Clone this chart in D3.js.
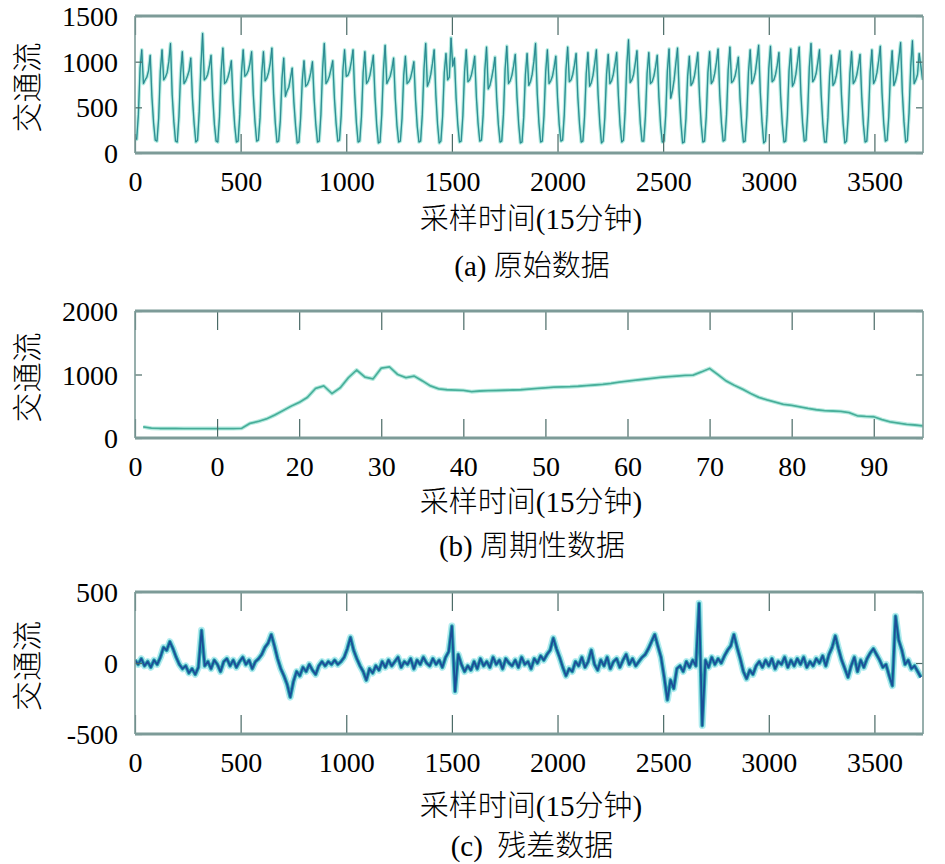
<!DOCTYPE html>
<html>
<head>
<meta charset="utf-8">
<script src="https://cdn.jsdelivr.net/npm/d3@7"></script>
<style>
  html, body { margin: 0; padding: 0; background: #fff; }
</style>
</head>
<body>
<div id="chart"></div>
<script>
// raw flow, one value every 8 samples (12 per day)
const rawStep = 8;
const rawFlow = [
    170, 150, 420, 930, 1130, 760, 800, 830, 900, 1070, 620, 330,
    140, 130, 380, 900, 1130, 800, 830, 880, 1000, 1200, 640, 340,
    130, 120, 400, 880, 1110, 760, 790, 840, 900, 1040, 600, 320,
    120, 140, 450, 950, 1310, 800, 820, 860, 950, 1070, 610, 310,
    130, 120, 400, 900, 1150, 760, 780, 830, 900, 1010, 580, 300,
    120, 130, 420, 880, 1130, 840, 860, 900, 980, 1110, 640, 340,
    130, 140, 390, 870, 1110, 790, 820, 880, 980, 1150, 650, 330,
    120, 130, 360, 820, 1040, 620, 680, 720, 820, 930, 560, 300,
    110, 120, 380, 800, 1010, 730, 750, 800, 880, 1000, 590, 310,
    120, 130, 420, 920, 1200, 760, 790, 840, 920, 1010, 600, 320,
    130, 140, 410, 900, 1130, 840, 850, 900, 1000, 1130, 650, 330,
    120, 130, 400, 880, 1110, 760, 790, 850, 950, 1070, 620, 310,
    110, 120, 420, 910, 1180, 760, 800, 840, 920, 1040, 600, 300,
    120, 130, 380, 850, 1060, 760, 780, 820, 900, 1000, 580, 290,
    120, 130, 420, 920, 1200, 730, 780, 860, 980, 1130, 640, 320,
    110, 130, 400, 880, 1090, 800, 830, 1260, 950, 1040, 600, 310,
    120, 130, 410, 890, 1130, 780, 800, 850, 940, 1060, 610, 320,
    130, 140, 420, 910, 1160, 700, 740, 820, 920, 1050, 600, 310,
    120, 130, 420, 920, 1170, 760, 790, 850, 950, 1080, 620, 320,
    110, 120, 390, 860, 1090, 740, 780, 860, 1000, 1200, 650, 330,
    120, 130, 410, 890, 1130, 760, 790, 840, 940, 1060, 610, 310,
    130, 140, 420, 910, 1160, 780, 800, 860, 960, 1090, 620, 320,
    120, 130, 400, 870, 1100, 730, 770, 850, 980, 1130, 640, 330,
    110, 130, 390, 860, 1080, 760, 790, 860, 970, 1100, 630, 310,
    120, 140, 450, 960, 1240, 770, 800, 860, 980, 1120, 640, 320,
    130, 130, 400, 870, 1100, 760, 780, 840, 940, 1070, 610, 300,
    120, 130, 410, 900, 1140, 600, 680, 800, 980, 1150, 650, 330,
    110, 120, 380, 840, 1060, 740, 770, 840, 960, 1100, 630, 320,
    120, 130, 400, 880, 1110, 760, 790, 870, 990, 1140, 640, 330,
    130, 140, 420, 910, 1160, 770, 790, 840, 930, 1050, 600, 310,
    120, 130, 410, 890, 1130, 760, 800, 880, 1020, 1180, 660, 340,
    110, 130, 420, 920, 1170, 780, 800, 860, 960, 1100, 630, 320,
    120, 130, 410, 900, 1140, 730, 770, 860, 1000, 1160, 650, 330,
    130, 140, 440, 940, 1200, 780, 810, 870, 990, 1130, 640, 320,
    120, 120, 390, 850, 1070, 740, 770, 850, 980, 1120, 640, 320,
    110, 130, 400, 870, 1110, 760, 790, 850, 950, 1080, 620, 310,
    120, 130, 410, 890, 1130, 760, 800, 880, 1010, 1170, 660, 330,
    130, 140, 400, 880, 1120, 740, 790, 880, 1040, 1210, 670, 340,
    120, 140, 440, 950, 1230, 760, 800, 860, 1090, 950, 800
];

// periodic (daily) profile, samples 1..96
const periodStart = 1;
const periodicFlow = [
    175, 155, 150, 150, 150, 149, 149, 149, 148, 148, 148, 148,
    152, 230, 260, 300, 360, 430, 500, 560, 640, 780, 820, 700,
    790, 950, 1070, 960, 930, 1100, 1120, 1000, 950, 975, 900, 820,
    775, 760, 755, 750, 730, 740, 745, 748, 752, 756, 760, 770,
    780, 790, 800, 805, 808, 815, 825, 835, 845, 860, 880, 895,
    910, 925, 940, 955, 965, 975, 985, 990, 1040, 1095, 1000, 900,
    830, 770, 700, 640, 600, 565, 530, 515, 490, 465, 445, 430,
    425, 418, 400, 350, 340, 335, 290, 255, 235, 215, 205, 190
];

// residual, one value every 15 samples
const residStep = 15;
const residualFlow = [
    20, -10, 30, -20, 10, -30, 20, -10, 40, 110, 90, 150, 100, 40, -10, -40, -20, -70, -40, -80,
    -30, 230, -20, 10, -40, 20, -10, -60, 10, 30, -20, 20, -30, 10, 40, -10, 20, -40, 10, 30,
    60, 110, 140, 200, 120, 30, -40, -90, -150, -240, -130, -60, -90, -30, -60, -10, -50, -80, -20, 10,
    -20, 10, -10, 20, -10, 10, 40, 100, 180, 90, 30, -20, -60, -120, -40, -70, -20, -50, 10, -30,
    20, -20, 10, 40, -30, 10, -10, 30, -40, 20, -10, 40, 0, -20, 30, -10, 20, -30, 40, 80,
    260, -200, 60, -10, -60, -20, -50, 10, -40, 30, -20, 10, -30, 40, -10, 20, -40, 30, 0, -20,
    20, -30, 40, -10, 10, -40, 30, 0, 50, 20, 60, 90, 175, 100, 40, -30, -90, -40, -60, 10,
    -20, 40, -30, 10, 90, -10, -50, 20, -20, 40, -40, 10, 30, -30, 20, 60, -10, 30, -20, 10,
    40, 60, 100, 150, 200, 120, 40, -100, -260, -120, -180, -40, -20, -60, 10, -30, 20, -20, 420, -440,
    20, -30, 40, -10, 30, 0, 50, 90, 120, 200, 110, 30, -60, -110, -50, -80, -20, 10, -30, 20,
    -20, 30, -40, 10, -10, 40, -30, 20, -20, 30, -10, 40, -30, 10, -20, 30, 0, 50, -20, 60,
    110, 190, 100, 20, -40, -100, -20, 40, -60, 20, -30, 30, 70, 100, 60, 20, -30, -10, -90, -160,
    330, 160, 90, -10, 20, -40, -20, -60, -100
];

const longTicks = [0, 500, 1000, 1500, 2000, 2500, 3000, 3500];
const dayTicks = [0, 10, 20, 30, 40, 50, 60, 70, 80, 90];
const dayTickLabels = ["0", "0", "20", "30", "40", "50", "60", "70", "80", "90"];
const yTicksA = [0, 500, 1000, 1500];
const yTicksB = [0, 1000, 2000];
const yTicksC = [-500, 0, 500];

const yTitle = "交通流";
const xTitle = "采样时间(15分钟)";
const captions = ["(a) 原始数据", "(b) 周期性数据", "(c)\u00a0 残差数据"];

const width = 945;
const height = 864;
const plotLeft = 135;
const plotRight = 923;
const numFont = "'Liberation Serif', 'Times New Roman', serif";
const cjkFont = "'Liberation Serif', 'Noto Sans CJK SC', serif";
const frameColor = "#7d9b98";
const tickColor = "#4a6a66";

const svg = d3.select("#chart")
    .append("svg")
    .attr("width", width)
    .attr("height", height)
    .attr("viewBox", `0 0 ${width} ${height}`);

function drawPanel(opt) {
    const x = d3.scaleLinear().domain(opt.xDomain).range([plotLeft, plotRight]);
    const y = d3.scaleLinear().domain(opt.yDomain).range([opt.bottom, opt.top]);
    const g = svg.append("g").attr("class", "panel-" + opt.id);

    g.append("clipPath")
        .attr("id", "clip-" + opt.id)
        .append("rect")
            .attr("x", plotLeft)
            .attr("y", opt.top)
            .attr("width", plotRight - plotLeft)
            .attr("height", opt.bottom - opt.top);

    // series, drawn in layers to get the soft look of the original
    const line = d3.line()
        .x((d, i) => x(opt.x0 + i * opt.step))
        .y(d => y(d));

    const lines = g.append("g").attr("clip-path", `url(#clip-${opt.id})`);
    opt.layers.forEach(l => {
        lines.append("path")
            .datum(opt.values)
            .attr("fill", "none")
            .attr("stroke", l.color)
            .attr("stroke-width", l.w)
            .attr("stroke-opacity", l.o || 1)
            .attr("stroke-linejoin", "round")
            .attr("d", line);
    });

    // bottom axis with labels, ticks pointing inward
    g.append("g")
        .attr("transform", `translate(0,${opt.bottom})`)
        .call(d3.axisBottom(x)
            .tickValues(opt.xTicks)
            .tickFormat((d, i) => opt.xLabels ? opt.xLabels[i] : d)
            .tickSizeInner(-19)
            .tickSizeOuter(0)
            .tickPadding(18));
    g.append("g")
        .attr("transform", `translate(0,${opt.top})`)
        .call(d3.axisTop(x)
            .tickValues(opt.xTicks)
            .tickFormat("")
            .tickSizeInner(-19)
            .tickSizeOuter(0));
    const yl = g.append("g")
        .attr("transform", `translate(${plotLeft},0)`)
        .call(d3.axisLeft(y)
            .tickValues(opt.yTicks)
            .tickFormat(d => d)
            .tickSizeInner(-7)
            .tickSizeOuter(0)
            .tickPadding(17));
    g.append("g")
        .attr("transform", `translate(${plotRight},0)`)
        .call(d3.axisRight(y)
            .tickValues(opt.yTicks)
            .tickFormat("")
            .tickSizeInner(-7)
            .tickSizeOuter(0));

    g.selectAll(".domain").remove();
    g.selectAll(".tick line")
        .attr("stroke", tickColor)
        .attr("stroke-width", 1.2);
    g.selectAll(".tick text")
        .style("font-family", numFont)
        .style("font-size", "28px")
        .style("fill", "#000");
    yl.selectAll(".tick text").attr("dy", "0.34em");

    // frame
    g.append("line")
        .attr("x1", plotLeft).attr("x2", plotRight)
        .attr("y1", opt.top).attr("y2", opt.top)
        .attr("stroke", frameColor).attr("stroke-width", 3);
    g.append("line")
        .attr("x1", plotLeft).attr("x2", plotRight)
        .attr("y1", opt.bottom).attr("y2", opt.bottom)
        .attr("stroke", frameColor).attr("stroke-width", 3);
    g.append("line")
        .attr("x1", plotLeft).attr("x2", plotLeft)
        .attr("y1", opt.top).attr("y2", opt.bottom)
        .attr("stroke", frameColor).attr("stroke-width", 1.6);
    g.append("line")
        .attr("x1", plotRight).attr("x2", plotRight)
        .attr("y1", opt.top).attr("y2", opt.bottom)
        .attr("stroke", frameColor).attr("stroke-width", 1.6);

    // titles
    const midY = (opt.top + opt.bottom) / 2;
    g.append("text")
        .attr("transform", `translate(38,${midY + 3}) rotate(-90)`)
        .attr("text-anchor", "middle")
        .style("font-family", cjkFont)
        .style("font-weight", 300)
        .style("font-size", "30px")
        .text(yTitle);
    g.append("text")
        .attr("x", (plotLeft + plotRight) / 2 + 2)
        .attr("y", opt.xTitleY)
        .attr("text-anchor", "middle")
        .style("font-family", cjkFont)
        .style("font-weight", 300)
        .style("font-size", "29px")
        .text(xTitle);
    g.append("text")
        .attr("x", (plotLeft + plotRight) / 2 + 3)
        .attr("y", opt.captionY)
        .attr("text-anchor", "middle")
        .style("font-family", cjkFont)
        .style("font-weight", 300)
        .style("font-size", "29px")
        .text(opt.caption);
}

drawPanel({
    id: "a", top: 16, bottom: 153,
    xDomain: [0, 3730], yDomain: [0, 1500],
    xTicks: longTicks, yTicks: yTicksA,
    values: rawFlow, x0: 0, step: rawStep,
    layers: [
        { color: "#b8ebe2", w: 3.6 },
        { color: "#40b4a2", w: 1.4 },
        { color: "#1d5a84", w: 0.8, o: 0.6 }
    ],
    xTitleY: 229, captionY: 276, caption: captions[0]
});

drawPanel({
    id: "b", top: 311, bottom: 438,
    xDomain: [0, 96], yDomain: [0, 2000],
    xTicks: dayTicks, xLabels: dayTickLabels, yTicks: yTicksB,
    values: periodicFlow, x0: periodStart, step: 1,
    layers: [
        { color: "#b6eadf", w: 4 },
        { color: "#55bca6", w: 1.8 },
        { color: "#2f8f80", w: 0.7, o: 0.6 }
    ],
    xTitleY: 512, captionY: 556, caption: captions[1]
});

drawPanel({
    id: "c", top: 592, bottom: 734,
    xDomain: [0, 3730], yDomain: [-500, 500],
    xTicks: longTicks, yTicks: yTicksC,
    values: residualFlow, x0: 0, step: residStep,
    layers: [
        { color: "#b2ecef", w: 7 },
        { color: "#2fa6b2", w: 3.8 },
        { color: "#1b4f98", w: 1.8 }
    ],
    xTitleY: 816, captionY: 856, caption: captions[2]
});
</script>
</body>
</html>
